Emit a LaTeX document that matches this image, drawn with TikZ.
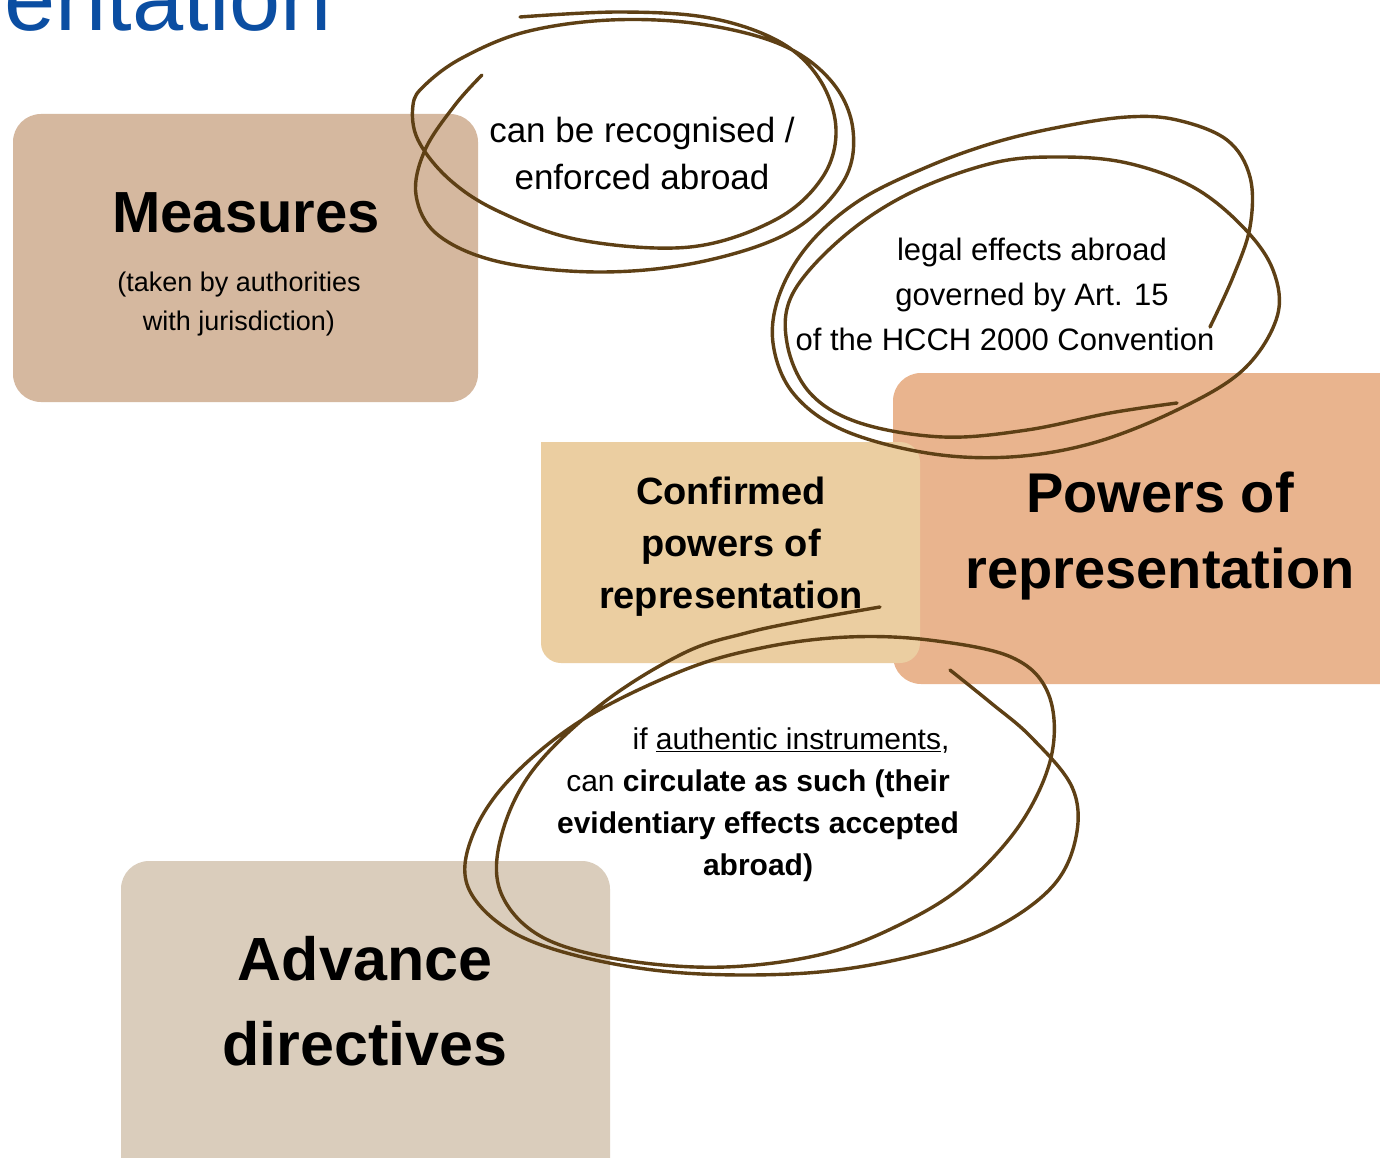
\documentclass[tikz,border=0pt]{standalone}
\usepackage{fontspec}
\setmainfont{Liberation Sans}
\usetikzlibrary{positioning}

\definecolor{titleblue}{RGB}{11,78,162}
\definecolor{measuresfill}{RGB}{213,184,159}
\definecolor{confirmedfill}{RGB}{235,206,161}
\definecolor{powersfill}{RGB}{233,180,142}
\definecolor{advancefill}{RGB}{218,205,188}
\definecolor{penbrown}{RGB}{94,64,21}

\begin{document}
\begin{tikzpicture}[x=1pt,y=-1pt,
		box/.style={rounded corners=28pt,inner sep=0pt},
		txt/.style={align=center,inner sep=0pt,anchor=base},
		scribble/.style={draw=penbrown,line width=3.4pt,line cap=round,line join=round},
	]
	\useasboundingbox[fill=white] (0,0) rectangle (1380,1158);

	\node[anchor=base east,inner sep=0pt,text=titleblue,font=\fontsize{92}{92}\selectfont] (title) at (332,31) {entation};

	% boxes
	\node[box,fill=measuresfill,minimum width=465,minimum height=288] (measures) at (245.5,258) {};
	\node[box,fill=powersfill,minimum width=520,minimum height=311] (powers) at (1153,528.5) {};
	\fill[confirmedfill] (541,442) [rounded corners=20pt] -- (920,442) -- (920,663) -- (541,663) [sharp corners] -- cycle;
	\node[box,fill=advancefill,minimum width=489,minimum height=340] (advance) at (365.5,1031) {};

	% labels (base = last line)
	\node[txt,font=\fontsize{58}{58}\selectfont\bfseries] (measures-title) at (246,233) {Measures};
	\node[txt,font=\fontsize{27}{38.5}\selectfont] (measures-sub) at (239,330) {(taken by authorities\\with jurisdiction)};
	\node[txt,font=\fontsize{38}{52}\selectfont\bfseries] (confirmed) at (731,608) {Confirmed\\powers of\\representation};
	\node[txt,font=\fontsize{56}{76}\selectfont\bfseries] (powers-txt) at (1160,588) {Powers of\\representation};
	\node[txt,font=\fontsize{61}{85}\selectfont\bfseries] (advance-txt) at (365,1065) {Advance\\directives};

	\node[txt,font=\fontsize{35}{47}\selectfont] (recognised) at (642,190) {can be recognised /\\enforced abroad};
	\node[txt,font=\fontsize{31}{45}\selectfont] (legal) at (1005,350) {\hspace*{54pt}legal effects abroad\\\hspace*{54pt}governed by Art. 15\\of the HCCH 2000 Convention};
	\node[txt,font=\fontsize{30}{42}\selectfont] (authentic) at (758,875) {\hspace*{66pt}if \underline{authentic instruments},\\can \textbf{circulate as such (their}\\\textbf{evidentiary effects accepted}\\\textbf{abroad)}};

	% scribbles
	\draw[scribble] plot[smooth,tension=0.6] coordinates {(482,75) (455,105) (425,150) (416,195) (438,235) (500,262) (600,272) (700,262) (790,232) (843,182) (853,130) (832,82) (782,45) (700,24) (610,20) (525,32) (462,58) (425,85) (413,105) (418,140) (450,180) (500,212) (580,240) (690,247) (775,220) (822,178) (836,130) (820,80) (780,42) (710,18) (620,12) (520,17)};
	\draw[scribble] plot[smooth,tension=0.6] coordinates {(1210,327) (1233,277) (1250,227) (1250,177) (1227,140) (1177,120) (1127,117) (1060,127) (993,143) (927,167) (860,200) (810,243) (780,293) (773,343) (793,393) (843,430) (927,453) (1010,457) (1093,443) (1177,410) (1243,370) (1277,317) (1273,270) (1243,227) (1193,187) (1127,163) (1060,157) (993,163) (910,193) (843,237) (793,293) (787,343) (810,393) (860,423) (943,437) (1027,430) (1110,413) (1177,403)};
	\draw[scribble] plot[smooth,tension=0.6] coordinates {(950,670) (991,703) (1031,737) (1072,787) (1076,837) (1052,887) (991,930) (909,957) (807,973) (684,973) (582,957) (509,930) (468,887) (472,837) (509,780) (582,720) (684,670) (766,647) (848,637) (929,640) (1011,657) (1048,693) (1052,753) (1023,820) (970,880) (909,920) (827,953) (725,967) (623,960) (542,937) (501,893) (501,837) (533,770) (603,703) (684,653) (746,633) (807,620) (880,607)};
\end{tikzpicture}
\end{document}
